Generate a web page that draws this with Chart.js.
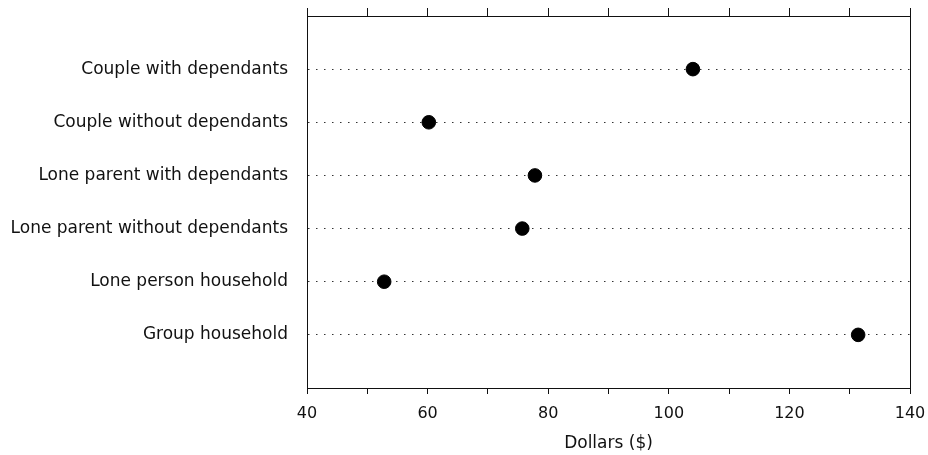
<!DOCTYPE html>
<html>
<head>
<meta charset="utf-8">
<script src="https://cdn.jsdelivr.net/npm/chart.js@4"></script>
<style>
  html, body { margin: 0; padding: 0; background: #fff; }
  #wrap { width: 928px; height: 455px; }
</style>
</head>
<body>
<div id="wrap"><canvas id="dotChart"></canvas></div>
<script>
// household types, top to bottom
const categories = [
    'Couple with dependants',
    'Couple without dependants',
    'Lone parent with dependants',
    'Lone parent without dependants',
    'Lone person household',
    'Group household'
];
// dollars ($)
const values = [104.0, 60.2, 77.8, 75.7, 52.8, 131.4];
const xTickLabels = ['40', '60', '80', '100', '120', '140'];

const FONT = "'DejaVu Sans', 'Liberation Sans', sans-serif";
const INK = '#111';

// fixed box sizes around the plot area, no label overhang padding
const fixSize = (prop, size) => scale => {
    scale[prop] = size;
    scale.paddingLeft = 0;
    scale.paddingRight = 0;
    scale.paddingTop = 0;
    scale.paddingBottom = 0;
};

const points = values.map((v, i) => ({ x: v, y: i + 1 }));

new Chart(document.getElementById('dotChart'), {
    type: 'scatter',
    data: {
        datasets: [{
            data: points,
            backgroundColor: '#000',
            borderColor: '#000',
            pointRadius: 6.8,
            pointHoverRadius: 6.8
        }]
    },
    options: {
        responsive: true,
        maintainAspectRatio: false,
        animation: false,
        layout: { padding: 0 },
        plugins: {
            legend: { display: false },
            tooltip: { enabled: false }
        },
        scales: {
            x: {
                type: 'linear',
                position: 'bottom',
                min: 40,
                max: 140,
                afterFit: fixSize('height', 67),
                ticks: {
                    stepSize: 10,
                    autoSkip: false,
                    maxRotation: 0,
                    padding: 10,
                    color: INK,
                    font: { family: FONT, size: 16 },
                    callback: v => xTickLabels.includes(String(v)) ? String(v) : ''
                },
                grid: {
                    drawOnChartArea: false,
                    drawTicks: true,
                    tickLength: 6,
                    tickColor: INK
                },
                border: { display: true, color: INK, width: 1 },
                title: {
                    display: true,
                    text: 'Dollars ($)',
                    color: INK,
                    font: { family: FONT, size: 17 },
                    padding: { top: 0, bottom: 1 }
                }
            },
            x2: {
                type: 'linear',
                position: 'top',
                min: 40,
                max: 140,
                afterFit: fixSize('height', 16),
                ticks: { display: false, stepSize: 10 },
                grid: {
                    drawOnChartArea: false,
                    drawTicks: true,
                    tickLength: 8,
                    tickColor: INK
                },
                border: { display: true, color: INK, width: 1 }
            },
            y: {
                type: 'linear',
                position: 'left',
                reverse: true,
                min: 0,
                max: 7,
                afterFit: fixSize('width', 307),
                ticks: {
                    stepSize: 1,
                    autoSkip: false,
                    padding: 19,
                    color: INK,
                    font: { family: FONT, size: 17 },
                    callback: v => categories[v - 1] || ''
                },
                grid: {
                    drawTicks: false,
                    lineWidth: 1,
                    color: ctx => (ctx.tick && ctx.tick.value > 0 && ctx.tick.value < 7) ? '#333' : 'rgba(0,0,0,0)'
                },
                border: { display: true, color: INK, width: 1, dash: [1.5, 6.5] }
            },
            y2: {
                type: 'linear',
                position: 'right',
                min: 0,
                max: 7,
                afterFit: fixSize('width', 18),
                ticks: { display: false },
                grid: { drawOnChartArea: false, drawTicks: false },
                border: { display: true, color: INK, width: 1 }
            }
        }
    }
});
</script>
</body>
</html>
